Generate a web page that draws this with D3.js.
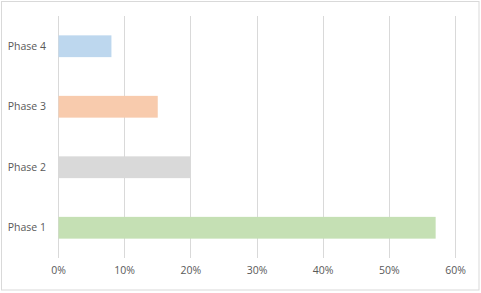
<!DOCTYPE html>
<html>
<head>
<meta charset="utf-8">
<script src="https://cdn.jsdelivr.net/npm/d3@7"></script>
<style>
  html, body { margin: 0; padding: 0; background: #fff; }
  svg { display: block; }
  .tick line { stroke: #d9d9d9; }
  .tick text { fill: #595959; font-size: 10.5px; font-family: "Open Sans", "DejaVu Sans", sans-serif; }
</style>
</head>
<body>
<div id="chart"></div>
<script>
// Data
const phases = ['Phase 4', 'Phase 3', 'Phase 2', 'Phase 1'];
const values = [0.08, 0.15, 0.20, 0.57];
const colors = ['#bdd7ee', '#f8cbad', '#d9d9d9', '#c5e0b4'];
const xTicks = [0, 0.1, 0.2, 0.3, 0.4, 0.5, 0.6];

const W = 481, H = 293;
const margin = { top: 16, right: 26, bottom: 35, left: 58 };
const width = W - margin.left - margin.right;
const height = H - margin.top - margin.bottom;

const svg = d3.select('#chart').append('svg')
  .attr('width', W).attr('height', H);

// outer chart border
svg.append('rect')
  .attr('x', 1.5).attr('y', 1.5)
  .attr('width', W - 3.5).attr('height', H - 4.5)
  .attr('fill', '#fff').attr('stroke', '#d9d9d9');

const g = svg.append('g')
  .attr('transform', `translate(${margin.left},${margin.top})`);

const x = d3.scaleLinear().domain([0, 0.6]).range([0, width]);
const y = d3.scaleBand().domain(phases).range([0, height]).paddingInner(0.64).paddingOuter(0.32);

// vertical gridlines
g.selectAll('.grid').data(xTicks)
  .join('line')
  .attr('class', 'grid')
  .attr('x1', d => Math.round(x(d)) + 0.5).attr('x2', d => Math.round(x(d)) + 0.5)
  .attr('y1', 0).attr('y2', height)
  .attr('stroke', '#d9d9d9').attr('stroke-width', 1);

// bars
g.selectAll('.bar').data(phases)
  .join('rect')
  .attr('class', 'bar')
  .attr('x', x(0) + 0.5)
  .attr('y', d => y(d))
  .attr('width', (d, i) => x(values[i]) - x(0))
  .attr('height', y.bandwidth())
  .attr('fill', (d, i) => colors[i]);

// x axis labels
const xAxis = g.append('g')
  .attr('transform', `translate(0,${height})`)
  .call(d3.axisBottom(x).tickValues(xTicks).tickFormat(d3.format('.0%')).tickSize(0).tickPadding(9));
xAxis.select('.domain').remove();

// y axis labels
const yAxis = g.append('g')
  .call(d3.axisLeft(y).tickSize(0).tickPadding(12));
yAxis.select('.domain').remove();

xAxis.attr('font-family', null);
yAxis.attr('font-family', null);
</script>
</body>
</html>
